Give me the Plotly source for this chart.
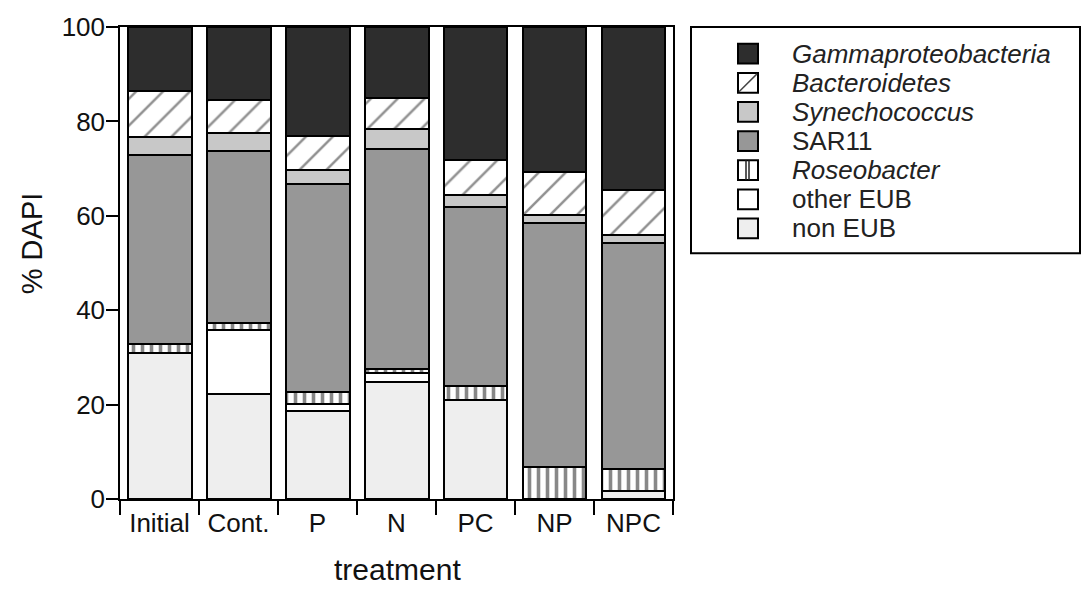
import plotly.graph_objects as go

categories = ["Initial", "Cont.", "P", "N", "PC", "NP", "NPC"]
non_eub = [30.9, 22.3, 18.7, 24.7, 21.0, 0.0, 1.7]
other_eub = [0.0, 13.5, 1.5, 2.0, 0.0, 0.0, 0.0]
roseobacter = [2.0, 1.5, 2.4, 0.8, 3.0, 6.7, 4.6]
sar11 = [39.9, 36.5, 44.1, 46.7, 37.8, 51.7, 47.9]
synechococcus = [3.9, 3.7, 2.9, 4.1, 2.6, 1.8, 1.8]
bacteroidetes = [9.7, 7.0, 7.4, 6.7, 7.5, 9.0, 9.5]
gamma = [13.6, 15.5, 23.0, 15.0, 28.1, 30.8, 34.5]

series = [
    ("non EUB", non_eub, "#eeeeee", None, False),
    ("other EUB", other_eub, "#ffffff", None, False),
    ("Roseobacter", roseobacter, "#ffffff", "|", True),
    ("SAR11", sar11, "#979797", None, False),
    ("Synechococcus", synechococcus, "#c8c8c8", None, True),
    ("Bacteroidetes", bacteroidetes, "#ffffff", "/", True),
    ("Gammaproteobacteria", gamma, "#2d2d2d", None, True),
]

W, H = 1082, 589
L, R, T, B = 120, 673, 21, 499
FONT = "Liberation Sans, Arial, sans-serif"

fig = go.Figure()
for name, vals, color, pat, ital in series:
    marker = dict(color=color, line=dict(color="black", width=2))
    if pat == "/":
        marker["pattern"] = dict(shape="/", fgcolor="#222222", bgcolor="#ffffff", size=19, solidity=0.13)
    elif pat == "|":
        marker["pattern"] = dict(shape="|", fgcolor="#111111", bgcolor="#ffffff", size=9, solidity=0.4)
    fig.add_trace(go.Bar(x=categories, y=vals, name=name, marker=marker, showlegend=False))

def px_x(p):
    return (p - L) / (R - L)

def px_y(p):
    return (B - p) / (B - T)

shapes = []
annotations = []
# legend box
shapes.append(dict(type="rect", xref="paper", yref="paper", x0=px_x(691), x1=px_x(1080),
                   y0=px_y(250), y1=px_y(21), line=dict(color="black", width=2), fillcolor="white"))
legend_order = list(reversed(series))
rows = [48, 77.5, 107, 136.5, 166, 195.5, 225]
for (name, vals, color, pat, ital), yc in zip(legend_order, rows):
    x0, x1 = 738, 758
    y0, y1 = yc - 10, yc + 10
    shapes.append(dict(type="rect", xref="paper", yref="paper", x0=px_x(x0), x1=px_x(x1),
                       y0=px_y(y1), y1=px_y(y0), line=dict(color="black", width=2), fillcolor=color))
    if pat == "/":
        shapes.append(dict(type="line", xref="paper", yref="paper", x0=px_x(x0 + 1), x1=px_x(x1 - 1),
                           y0=px_y(y1 - 1), y1=px_y(y0 + 1), line=dict(color="#444444", width=1.5)))
    elif pat == "|":
        for xm in (746, 749):
            shapes.append(dict(type="line", xref="paper", yref="paper", x0=px_x(xm), x1=px_x(xm),
                               y0=px_y(y1), y1=px_y(y0), line=dict(color="#222222", width=1.5)))
    txt = f"<i>{name}</i>" if ital else name
    annotations.append(dict(text=txt, xref="paper", yref="paper", x=px_x(790), y=px_y(yc),
                            xanchor="left", yanchor="middle", showarrow=False,
                            font=dict(family=FONT, size=26, color="#222222")))

annotations.append(dict(text="% DAPI", xref="paper", yref="paper", x=px_x(32), y=px_y(240),
                        xanchor="center", yanchor="middle", textangle=-90, showarrow=False,
                        font=dict(family=FONT, size=29, color="#111111")))
annotations.append(dict(text="treatment", xref="paper", yref="paper", x=px_x(397), y=px_y(570),
                        xanchor="center", yanchor="middle", showarrow=False,
                        font=dict(family=FONT, size=30, color="#111111")))

fig.update_layout(
    width=W, height=H,
    margin=dict(l=L, r=W - R, t=T, b=H - B, pad=0),
    barmode="stack", bargap=0.19,
    plot_bgcolor="white", paper_bgcolor="white",
    font=dict(family=FONT, size=26, color="#111111"),
    shapes=shapes, annotations=annotations,
    showlegend=False,
)
fig.update_xaxes(type="category", range=[-0.5, 6.5], tickson="boundaries", ticks="outside",
                 ticklen=14, tickwidth=1.5, tickcolor="black", showline=True, linecolor="black",
                 linewidth=1.5, mirror=True, showgrid=False, zeroline=False,
                 tickfont=dict(family=FONT, size=26, color="#111111"))
fig.update_yaxes(range=[0, 100], tickvals=[0, 20, 40, 60, 80, 100], ticks="outside", ticklen=12,
                 tickwidth=1.5, tickcolor="black", showline=True, linecolor="black", linewidth=1.5,
                 mirror=True, showgrid=False, zeroline=False, ticklabelstandoff=-4,
                 tickfont=dict(family=FONT, size=26, color="#111111"))

fig.write_html("out.html")
